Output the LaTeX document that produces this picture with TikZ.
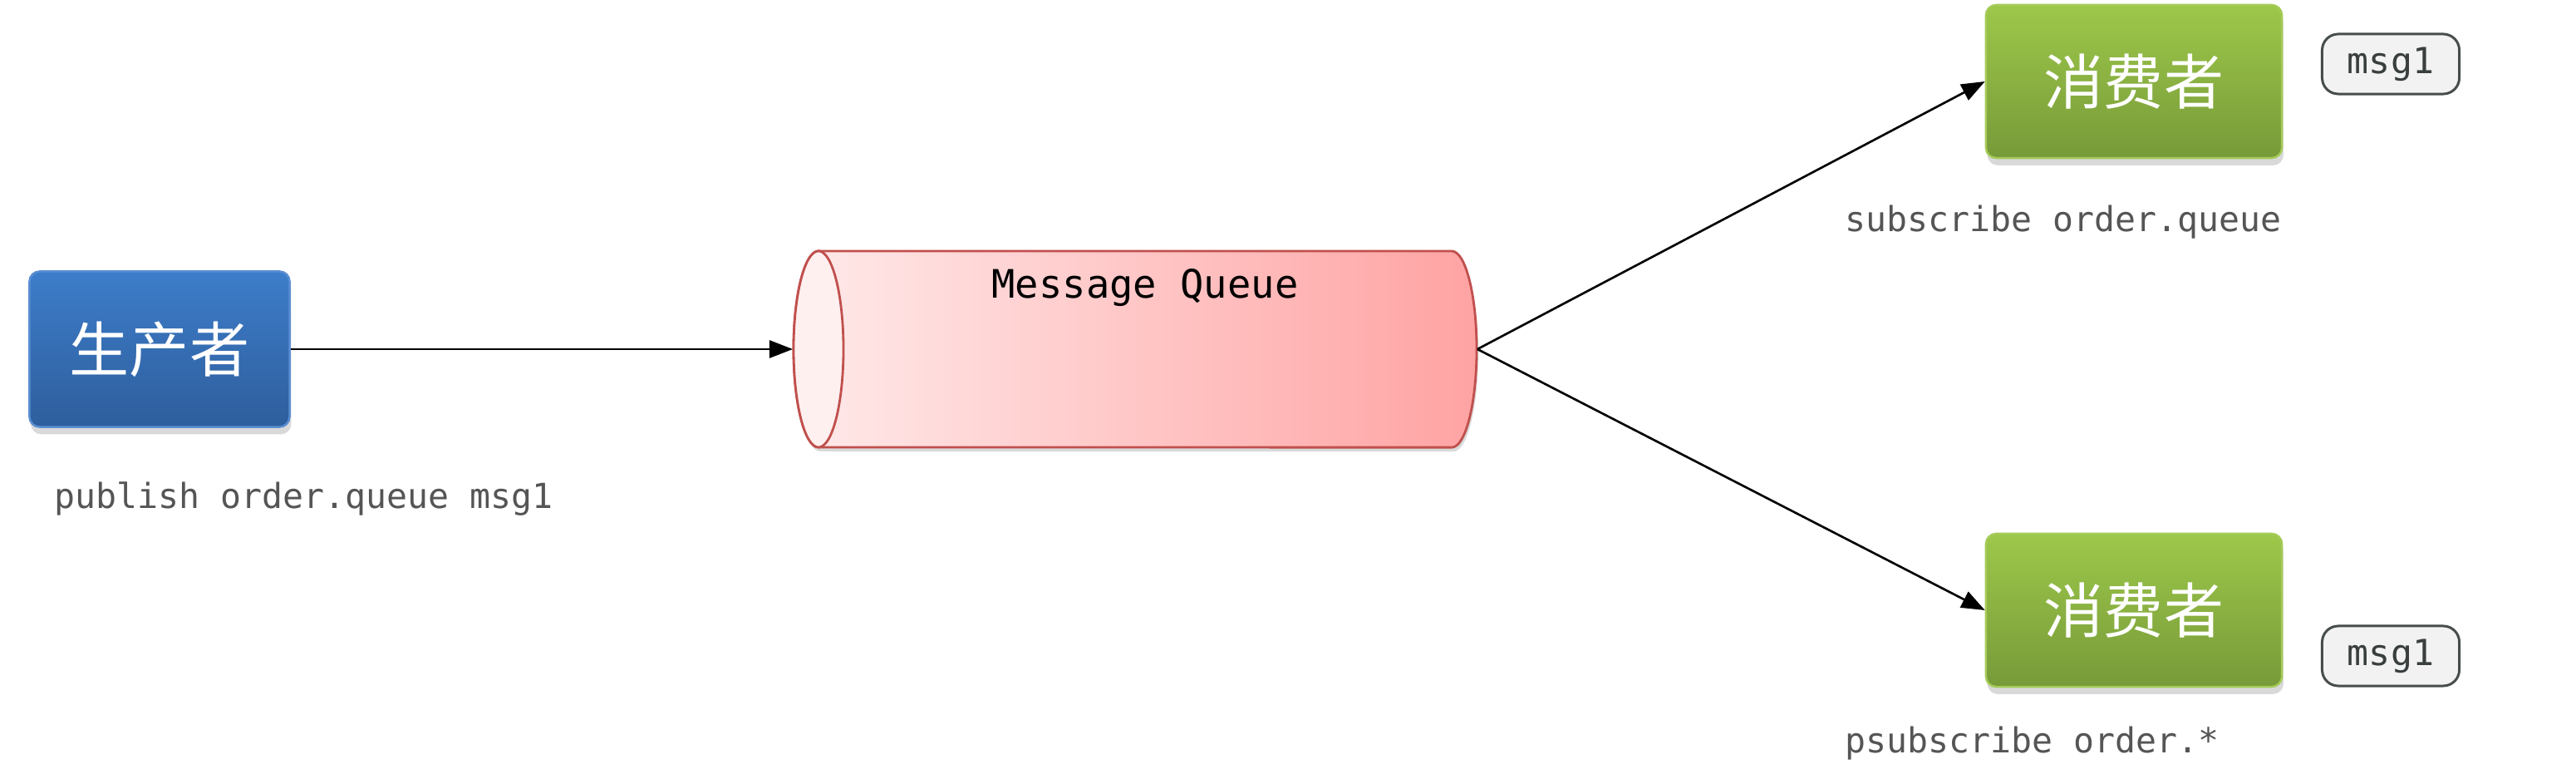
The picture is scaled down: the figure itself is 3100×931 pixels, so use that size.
\documentclass[tikz,border=0pt]{standalone}
\usepackage{fontspec}
\setmainfont{Liberation Sans}
\newfontfamily\cjkfont{Noto Sans CJK SC}
\newfontfamily\monofont{DejaVu Sans Mono}
\usetikzlibrary{arrows.meta,shadows}
\definecolor{prodtop}{HTML}{3D7DCA}
\definecolor{prodbot}{HTML}{2E5E9C}
\definecolor{prodedge}{HTML}{5A8ED3}
\definecolor{constop}{HTML}{9DC84A}
\definecolor{consbot}{HTML}{779A39}
\definecolor{consedge}{HTML}{A4CB58}
\definecolor{mqedge}{HTML}{C0504D}
\definecolor{mqleft}{HTML}{FFEAEA}
\definecolor{mqright}{HTML}{FFA3A3}
\definecolor{mqface}{HTML}{FFF0F0}
\definecolor{tagfill}{HTML}{F2F2F2}
\definecolor{tagedge}{HTML}{474D4D}
\definecolor{labelgray}{HTML}{555555}
\tikzset{
  x=0.01cm, y=-0.01cm,
  box/.style={rounded corners=3.5pt, line width=0.7pt,
    drop shadow={shadow xshift=0.5pt, shadow yshift=-2.5pt, opacity=0.25, fill=black!60},
    text=white, font=\cjkfont\fontsize{20.5pt}{24pt}\selectfont, inner sep=0pt},
  prodbox/.style={box, draw=prodedge, top color=prodtop, bottom color=prodbot,
    minimum width=3.13cm, minimum height=1.87cm},
  consbox/.style={box, draw=consedge, top color=constop, bottom color=consbot,
    minimum width=3.56cm, minimum height=1.84cm},
  tagbox/.style={draw=tagedge, fill=tagfill, line width=0.85pt, rounded corners=5.5pt,
    minimum width=1.65cm, minimum height=0.72cm, inner sep=0pt,
    text=tagedge!80!black, font=\monofont\fontsize{12.3pt}{14pt}\selectfont},
  cmdlabel/.style={anchor=west, inner sep=0pt, text=labelgray,
    font=\monofont\fontsize{11.8pt}{14pt}\selectfont},
  conn/.style={draw=black, line width=0.75pt, -{Triangle[length=8pt,width=6pt]}},
}
\begin{document}
\begin{tikzpicture}
\useasboundingbox (0,0) rectangle (3100,931);

% producer
\node[prodbox] (prod) at (192,420) {生产者};
\node[cmdlabel] (publab) at (65,600) {publish order.queue msg1};

% message queue (cylinder)
\node[minimum width=8.22cm, minimum height=2.36cm, inner sep=0pt] (mq) at (1366,420) {};
\fill[black, opacity=0.15] (987,307) -- (1749,307)
  arc[start angle=90, end angle=-90, x radius=0.3cm, y radius=1.18cm]
  -- (987,543)
  arc[start angle=270, end angle=90, x radius=0.3cm, y radius=1.18cm] -- cycle;
\shade[left color=mqleft, right color=mqright] (985,302) -- (1747,302)
  arc[start angle=90, end angle=-90, x radius=0.3cm, y radius=1.18cm]
  -- (985,538)
  arc[start angle=270, end angle=90, x radius=0.3cm, y radius=1.18cm] -- cycle;
\draw[mqedge, line width=0.8pt] (985,302) -- (1747,302)
  arc[start angle=90, end angle=-90, x radius=0.3cm, y radius=1.18cm]
  -- (985,538)
  arc[start angle=270, end angle=90, x radius=0.3cm, y radius=1.18cm] -- cycle;
\draw[mqedge, line width=0.8pt, fill=mqface] (985,420) ellipse[x radius=0.3cm, y radius=1.18cm];
\node[inner sep=0pt, font=\monofont\fontsize{13.4pt}{16pt}\selectfont] (mqtitle) at (1378,346) {Message Queue};

% consumers
\node[consbox] (c1) at (2568,98) {消费者};
\node[consbox] (c2) at (2568,734) {消费者};
\node[tagbox] (t1) at (2877,77) {msg1};
\node[tagbox] (t2) at (2877,789) {msg1};
\node[cmdlabel] (sublab) at (2220,267) {subscribe order.queue};
\node[cmdlabel] (psublab) at (2220,894) {psubscribe order.*};

% connectors
\draw[conn] (prod.east) -- (mq.west);
\draw[conn] (mq.east) -- (c1.west);
\draw[conn] (mq.east) -- (c2.west);
\end{tikzpicture}
\end{document}
